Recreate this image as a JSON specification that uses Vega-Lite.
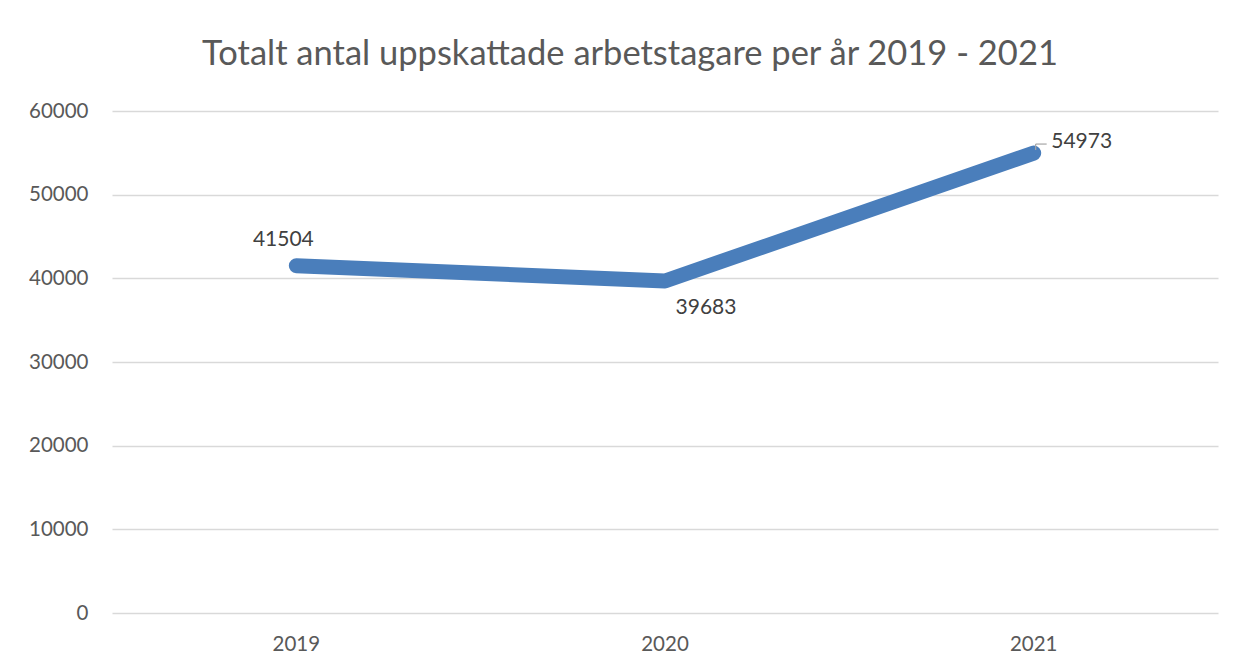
{
  "$schema": "https://vega.github.io/schema/vega-lite/v6.json",
  "autosize": {"type": "none"},
  "width": 1106,
  "height": 502,
  "padding": {"left": 112, "top": 111, "right": 18, "bottom": 53},
  "background": "white",
  "title": {
    "text": "Totalt antal uppskattade arbetstagare per år 2019 - 2021",
    "font": "Lato",
    "fontSize": 34.5,
    "fontWeight": "normal",
    "color": "#595959",
    "anchor": "middle",
    "frame": "group",
    "dx": -35,
    "offset": 29
  },
  "data": {
    "values": [
      {"year": "2019", "value": 41504},
      {"year": "2020", "value": 39683},
      {"year": "2021", "value": 54973}
    ]
  },
  "encoding": {
    "x": {
      "field": "year", "type": "ordinal",
      "scale": {"paddingInner": 0, "paddingOuter": 0},
      "axis": {
        "title": null, "labelAngle": 0, "domain": false, "ticks": false,
        "labelFont": "Lato", "labelFontSize": 20.5, "labelColor": "#595959",
        "labelPadding": 21, "grid": false
      }
    },
    "y": {
      "field": "value", "type": "quantitative",
      "scale": {"domain": [0, 60000], "nice": false},
      "axis": {
        "title": null, "values": [0, 10000, 20000, 30000, 40000, 50000, 60000],
        "format": "d", "domain": false, "ticks": false,
        "labelFont": "Lato", "labelFontSize": 20.5, "labelColor": "#595959",
        "labelPadding": 24, "gridColor": "#d9d9d9", "gridWidth": 1.5
      }
    }
  },
  "layer": [
    {
      "mark": {"type": "line", "color": "#4a7ebb", "strokeWidth": 15, "strokeCap": "round", "strokeJoin": "round"}
    },
    {
      "transform": [{"filter": "datum.year == '2021'"}],
      "mark": {"type": "rule", "color": "#a6a6a6", "strokeWidth": 1.2, "xOffset": 2, "x2Offset": 13, "yOffset": -9, "y2Offset": -9},
      "encoding": {"x2": {"field": "year"}, "y2": {"field": "value"}}
    },
    {
      "transform": [{"filter": "datum.year == '2021'"}],
      "mark": {"type": "rule", "color": "#a6a6a6", "strokeWidth": 1.2, "xOffset": 2, "x2Offset": 2, "yOffset": -9, "y2Offset": -3},
      "encoding": {"x2": {"field": "year"}, "y2": {"field": "value"}}
    },
    {
      "transform": [{"filter": "datum.year == '2019'"}],
      "mark": {"type": "text", "font": "Lato", "fontSize": 21, "color": "#404040", "dx": -13, "dy": -26},
      "encoding": {"text": {"field": "value", "type": "quantitative", "format": "d"}}
    },
    {
      "transform": [{"filter": "datum.year == '2020'"}],
      "mark": {"type": "text", "font": "Lato", "fontSize": 21, "color": "#404040", "dx": 41, "dy": 27},
      "encoding": {"text": {"field": "value", "type": "quantitative", "format": "d"}}
    },
    {
      "transform": [{"filter": "datum.year == '2021'"}],
      "mark": {"type": "text", "font": "Lato", "fontSize": 21, "color": "#404040", "dx": 48, "dy": -11},
      "encoding": {"text": {"field": "value", "type": "quantitative", "format": "d"}}
    }
  ],
  "config": {"view": {"stroke": null}}
}
